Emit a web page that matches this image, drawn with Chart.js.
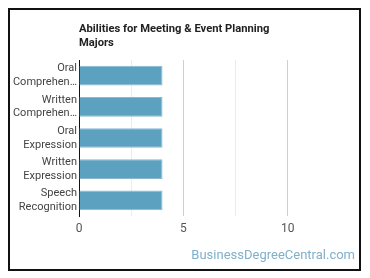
<!DOCTYPE html>
<html><head><meta charset="utf-8">
<script src="https://cdn.jsdelivr.net/npm/chart.js@4"></script>
<style>
html,body{margin:0;padding:0;background:#fff;}
#wrap{position:relative;width:370px;height:278px;}
#frame{position:absolute;left:8px;top:8px;width:349px;height:259px;border:2px solid #111;box-sizing:content-box;pointer-events:none;}
canvas{position:absolute;left:0;top:0;}
</style></head>
<body>
<div id="wrap"><canvas id="c" width="370" height="278"></canvas><div id="frame"></div></div>
<script>
const categories = [["Oral","Comprehen…"],["Written","Comprehen…"],["Oral","Expression"],["Written","Expression"],["Speech","Recognition"]];
const values = [4, 4, 4, 4, 4];
const titleLines = ["Abilities for Meeting & Event Planning","Majors"];
const tickLabels = [0, 5, 10];
const watermark = "BusinessDegreeCentral.com";

const overlay = {
  id:'overlay',
  afterDraw(chart){
    const ctx = chart.ctx, a = chart.chartArea;
    ctx.save();
    ctx.fillStyle = '#222';
    ctx.font = 'bold 11.2px Roboto';
    ctx.textBaseline = 'alphabetic';
    ctx.textAlign = 'left';
    ctx.fillText(titleLines[0], a.left, 32);
    ctx.fillText(titleLines[1], a.left, 46);
    ctx.font = '13px Roboto';
    ctx.fillStyle = '#7fb0cc';
    ctx.textAlign = 'right';
    ctx.fillText(watermark, 355, 259);
    ctx.restore();
  }
};

new Chart(document.getElementById('c'), {
  type:'bar',
  data:{labels:categories, datasets:[{data:values, backgroundColor:'#5ca2c0', borderColor:'#86bad1', borderWidth:1, barPercentage:0.9, categoryPercentage:0.7}]},
  options:{
    indexAxis:'y', responsive:false, animation:false, devicePixelRatio:1,
    layout:{padding:{top:60,right:30,left:0,bottom:0}},
    plugins:{legend:{display:false}, title:{display:false}, tooltip:{enabled:false}},
    scales:{
      x:{min:0,max:12.5,
        afterBuildTicks(s){ s.ticks = [0,2.5,5,7.5,10,12.5].map(v=>({value:v})); },
        afterFit(s){ s.height = 62; },
        ticks:{padding:6, autoSkip:false, maxRotation:0, color:'#555', font:{family:'Roboto',size:12},
          callback:(v)=> tickLabels.includes(v) ? String(v) : ''},
        grid:{drawTicks:false, color:(c)=>{const v=c.tick&&c.tick.value; if(v===0||v===12.5) return 'rgba(0,0,0,0)'; return (v%5===0)?'#cfcfcf':'#ececec';}},
        border:{display:false}
      },
      y:{
        afterFit(s){ s.width = 79; },
        ticks:{padding:2, autoSkip:false, color:'#444', font:{family:'Roboto',size:11, lineHeight:1.25}},
        grid:{display:false, drawTicks:false},
        border:{display:true, color:'#111', width:1}
      }
    }
  },
  plugins:[overlay]
});
</script>
</body></html>
